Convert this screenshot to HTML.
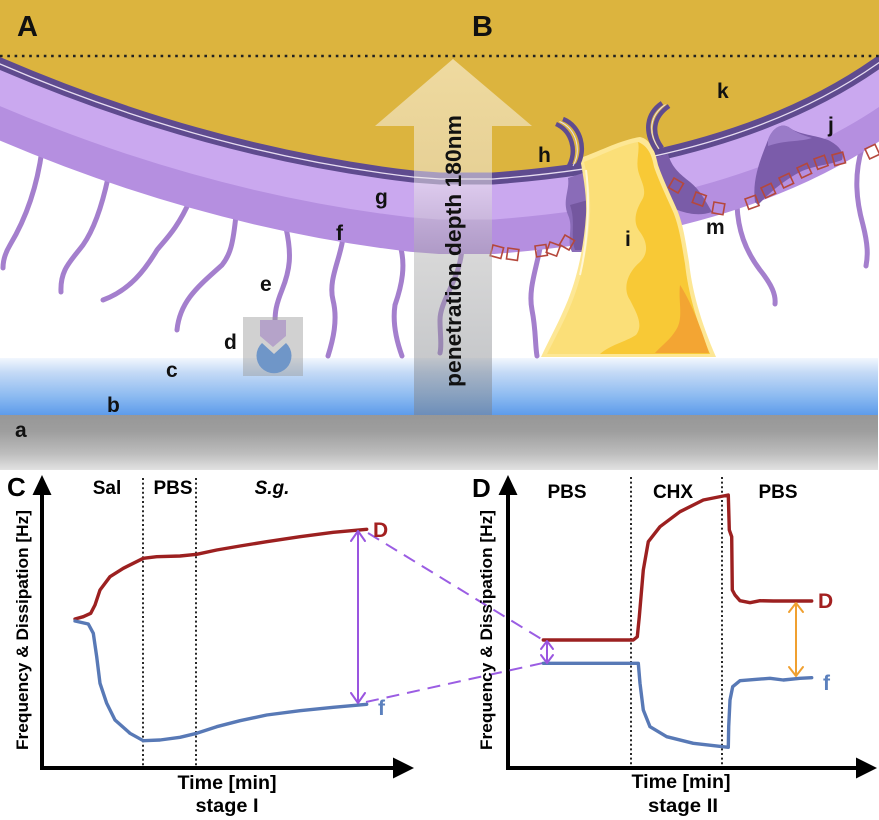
<!DOCTYPE html>
<html><head><meta charset="utf-8"><style>
html,body{margin:0;padding:0;background:#fff;}
svg{display:block;}
text{font-family:"Liberation Sans",Arial,sans-serif;font-weight:bold;}
</style></head><body>
<svg width="879" height="820" viewBox="0 0 879 820" xmlns="http://www.w3.org/2000/svg">
<defs>
<linearGradient id="blue" x1="0" y1="0" x2="0" y2="1">
 <stop offset="0" stop-color="#f2f7fe"/>
 <stop offset="0.25" stop-color="#c4daf6"/>
 <stop offset="0.65" stop-color="#8dbbf1"/>
 <stop offset="1" stop-color="#5b9aea"/>
</linearGradient>
<linearGradient id="grey" x1="0" y1="0" x2="0" y2="1">
 <stop offset="0" stop-color="#979797"/>
 <stop offset="0.3" stop-color="#9e9e9e"/>
 <stop offset="0.7" stop-color="#bdbdbd"/>
 <stop offset="1" stop-color="#e2e2e2"/>
</linearGradient>
<linearGradient id="arr" gradientUnits="userSpaceOnUse" x1="0" y1="58" x2="0" y2="415">
 <stop offset="0" stop-color="#fffaf0" stop-opacity="0.55"/>
 <stop offset="0.35" stop-color="#f0ecec" stop-opacity="0.5"/>
 <stop offset="0.55" stop-color="#a8a8a8" stop-opacity="0.45"/>
 <stop offset="1" stop-color="#7c8088" stop-opacity="0.5"/>
</linearGradient>
<clipPath id="cA"><rect x="-10" y="0" width="450" height="470"/></clipPath>
<clipPath id="cB"><rect x="440" y="0" width="144" height="470"/><rect x="652" y="0" width="240" height="470"/></clipPath>
<path id="mA" d="M-30,44.5 L0,57 Q207,146 413,170 L440,172 L460,173"/>
<path id="mB" d="M420,172 L493,172 C650,160 780,125 877,57 L900,41"/>
</defs>

<!-- ===== Top illustration ===== -->
<rect x="0" y="0" width="879" height="360" fill="#dcb43e"/>
<path d="M0,132 Q207,221 413,245 L440,247 V360 H0 Z" fill="#fff"/>
<path d="M440,247 L493,247 C650,235 780,200 877,132 L879,130 V360 H440 Z" fill="#fff"/>

<rect x="0" y="358" width="878" height="58" fill="url(#blue)"/>
<rect x="0" y="415" width="878" height="55" fill="url(#grey)"/>

<!-- hairs -->
<g fill="none" stroke="#a47fcd" stroke-width="5" stroke-linecap="round">
 <path d="M42,150 C36,195 22,225 10,245 C4,255 3,262 3,268"/>
 <path d="M108,178 C100,215 90,235 83,245 C70,262 60,270 61,292"/>
 <path d="M190,200 C178,228 165,240 157,250 C145,270 130,290 103,300"/>
 <path d="M236,215 C233,245 230,255 222,265 C200,285 180,300 177,330"/>
 <path d="M286,228 C292,255 290,270 282,290 C276,305 275,312 275,322"/>
 <path d="M343,238 C340,260 328,280 333,300 C338,320 333,340 328,356"/>
 <path d="M400,245 C406,265 402,285 395,305 C392,325 398,345 402,356"/>
 <path d="M462,248 C460,280 440,300 440,320 C440,335 442,345 440,353"/>
 <path d="M540,248 C536,270 528,290 532,310 C536,330 535,345 537,356"/>
 <path d="M737,205 C738,230 745,250 760,270 C772,285 776,295 775,304"/>
 <path d="M862,148 C854,175 856,200 863,225 C868,245 868,255 866,266"/>
</g>

<!-- membrane A -->
<g clip-path="url(#cA)">
 <use href="#mA" fill="none" stroke="#b58fe0" stroke-width="37" transform="translate(0,63.5)"/>
 <use href="#mA" fill="none" stroke="#caa8ef" stroke-width="36" transform="translate(0,29.5)"/>
 <use href="#mA" fill="none" stroke="#5f4b8f" stroke-width="12" transform="translate(0,6.5)"/>
 <use href="#mA" fill="none" stroke="#e6dcf0" stroke-width="1.3" transform="translate(0,7)"/>
</g>
<!-- membrane B -->
<g clip-path="url(#cB)">
 <use href="#mB" fill="none" stroke="#b58fe0" stroke-width="37" transform="translate(0,63.5)"/>
 <use href="#mB" fill="none" stroke="#caa8ef" stroke-width="36" transform="translate(0,29.5)"/>
 <use href="#mB" fill="none" stroke="#5f4b8f" stroke-width="12" transform="translate(0,6.5)"/>
 <use href="#mB" fill="none" stroke="#e6dcf0" stroke-width="1.3" transform="translate(0,7)"/>
</g>

<!-- dark patches in B -->
<path d="M568,178 L586,172 L588,252 L572,252 C566,240 574,228 568,215 C562,200 570,190 568,178 Z" fill="#8a6cb8"/>
<path d="M570,205 L588,200 L588,250 L575,250 C570,235 576,222 570,205 Z" fill="#74579f"/>
<path d="M652,158 L668,154 C672,168 680,174 690,182 C700,190 705,200 712,212 C700,216 690,214 680,211 C670,207 662,200 656,195 Z" fill="#7a5ca8"/>
<path d="M755,202 C752,180 760,160 768,140 C772,128 782,122 790,128 C800,135 815,135 828,140 C838,145 845,152 842,160 C830,165 815,165 800,172 C785,180 772,190 758,205 Z" fill="#7b5caa"/>
<path d="M768,140 C772,128 782,122 790,128 C798,134 806,136 812,138 C800,142 785,140 768,146 Z" fill="#9a7bc8"/>

<!-- red squares -->
<g fill="none" stroke="#b5483c" stroke-width="1.6">
 <rect x="0" y="0" width="11" height="11" transform="translate(493,245) rotate(15)"/>
 <rect x="0" y="0" width="11" height="11" transform="translate(508,248) rotate(8)"/>
 <rect x="0" y="0" width="11" height="11" transform="translate(535,246) rotate(-8)"/>
 <rect x="0" y="0" width="11" height="11" transform="translate(550,242) rotate(20)"/>
 <rect x="0" y="0" width="11" height="11" transform="translate(565,235) rotate(30)"/>
 <rect x="0" y="0" width="11" height="11" transform="translate(674,178) rotate(30)"/>
 <rect x="0" y="0" width="11" height="11" transform="translate(696,192) rotate(20)"/>
 <rect x="0" y="0" width="11" height="11" transform="translate(714,202) rotate(10)"/>
 <rect x="0" y="0" width="11" height="11" transform="translate(745,199) rotate(-20)"/>
 <rect x="0" y="0" width="11" height="11" transform="translate(761,188) rotate(-25)"/>
 <rect x="0" y="0" width="11" height="11" transform="translate(779,178) rotate(-25)"/>
 <rect x="0" y="0" width="11" height="11" transform="translate(797,168) rotate(-25)"/>
 <rect x="0" y="0" width="11" height="11" transform="translate(814,159) rotate(-20)"/>
 <rect x="0" y="0" width="11" height="11" transform="translate(832,155) rotate(-15)"/>
 <rect x="0" y="0" width="11" height="11" transform="translate(865,149) rotate(-25)"/>
</g>

<!-- gold blob i -->
<path d="M580,158 C598,152 620,140 640,137 C650,139 655,150 658,165 C664,182 672,198 678,212 C684,228 686,245 689,262 C692,290 700,320 716,357 L541,357 C550,338 560,320 568,300 C578,275 584,245 586,215 C587,195 583,175 580,158 Z" fill="#fde795"/>
<path d="M584,162 C600,156 620,145 638,142 C647,145 651,154 654,167 C660,184 668,200 674,214 C680,230 682,247 685,264 C688,292 696,320 710,354 L547,354 C556,336 565,320 572,302 C582,277 588,247 590,215 C591,196 588,178 584,162 Z" fill="#fbdf78"/>
<path d="M638,142 C648,146 652,155 654,167 C660,184 668,200 674,214 C680,230 682,247 685,264 C688,292 696,320 710,354 L600,354 C610,345 625,342 636,335 C644,325 636,312 630,300 C622,288 628,272 640,262 C650,252 646,240 640,232 C632,222 636,210 642,200 C648,190 640,180 638,170 C636,160 640,150 638,142 Z" fill="#f8c936"/>
<path d="M680,285 C690,300 700,325 709,353 L655,353 C662,345 670,340 676,330 C684,318 678,302 680,285 Z" fill="#f3a533"/>
<path d="M586,170 C590,200 588,240 580,275" fill="none" stroke="#fff6d8" stroke-width="2"/>

<!-- hooks -->
<g fill="none" stroke="#5f4b8f" stroke-width="4.5">
 <path d="M563,119 C581,126 587,150 577,166"/>
 <path d="M556,124 C572,131 577,151 569,166"/>
 <path d="M662,103 C646,114 644,132 656,150"/>
 <path d="M669,106 C653,117 651,133 662,148"/>
</g>
<g fill="none" stroke="#e6dcf0" stroke-width="1">
 <path d="M559.5,121.5 C576.5,128.5 582,150.5 573,166"/>
 <path d="M665.5,104.5 C649.5,115.5 647.5,132.5 659,149"/>
</g>

<!-- box d -->
<rect x="243" y="317" width="60" height="59" fill="#9a9a9a" fill-opacity="0.45"/>
<path d="M260,320 H286 V336 L273,347 L260,336 Z" fill="#b5a3c9"/>
<path d="M286,343 A17.5,17.5 0 1,1 262,343 L274,354 Z" fill="#6f96c8"/>

<!-- dotted line -->
<line x1="0" y1="56" x2="879" y2="56" stroke="#222" stroke-width="2.6" stroke-dasharray="2.6 4.7"/>

<!-- big arrow -->
<polygon points="414,415 414,126 375,126 453,59 532,126 492,126 492,415" fill="url(#arr)"/>
<text transform="translate(461,251) rotate(-90)" font-size="22" text-anchor="middle" textLength="272" lengthAdjust="spacingAndGlyphs" fill="#111">penetration depth 180nm</text>

<!-- labels -->
<g font-size="21" fill="#111">
 <text x="15" y="437">a</text>
 <text x="107" y="412">b</text>
 <text x="166" y="377">c</text>
 <text x="224" y="349">d</text>
 <text x="260" y="291">e</text>
 <text x="336" y="240">f</text>
 <text x="375" y="204">g</text>
 <text x="538" y="162">h</text>
 <text x="625" y="246">i</text>
 <text x="828" y="132">j</text>
 <text x="717" y="98">k</text>
 <text x="706" y="234">m</text>
</g>
<text x="17" y="36" font-size="29" fill="#111">A</text>
<text x="472" y="36" font-size="29" fill="#111">B</text>

<!-- ===== Charts ===== -->
<g stroke="#111" stroke-width="1.8" stroke-dasharray="2 2.6">
 <line x1="143" y1="478" x2="143" y2="766"/>
 <line x1="196" y1="478" x2="196" y2="766"/>
 <line x1="631" y1="477" x2="631" y2="766"/>
 <line x1="722" y1="477" x2="722" y2="766"/>
</g>
<g stroke="#000" stroke-width="4" fill="none">
 <line x1="42" y1="490" x2="42" y2="770"/>
 <line x1="40" y1="768" x2="396" y2="768"/>
 <line x1="508" y1="490" x2="508" y2="770"/>
 <line x1="506" y1="768" x2="859" y2="768"/>
</g>
<g fill="#000">
 <polygon points="42,475 32.5,495 51.5,495"/>
 <polygon points="414,768 393,757.5 393,778.5"/>
 <polygon points="508,475 498.5,495 517.5,495"/>
 <polygon points="877,768 856,757.5 856,778.5"/>
</g>

<g stroke="#9b5de3" stroke-width="2" stroke-dasharray="13 8" fill="none">
 <line x1="368" y1="533" x2="543" y2="640"/>
 <line x1="366" y1="702" x2="543" y2="663"/>
</g>

<g fill="none" stroke-width="3.4" stroke-linejoin="round" stroke-linecap="round">
 <path stroke="#9c2020" d="M75,619 L83.3,616.7 L90.7,613.3 L95,605 L100,590 L110,576.7 L123.3,568.3 L143.3,558.3 L156.7,556.7 L180,556 L196.7,554.3 L216.7,550 L240,546 L266.7,541.7 L300,536.7 L333.3,532.3 L366.7,529.3"/>
 <path stroke="#5879b6" d="M75,621 L88.3,624 L93.3,633.3 L96.7,656.7 L100,683.3 L106.7,703.3 L115,720 L130,733.3 L143.3,740.7 L160,740 L180,737.3 L196.7,733.3 L216.7,726.7 L240,720.7 L266.7,715 L300,710.7 L333.3,707.3 L366.7,704.3"/>
 <path stroke="#9c2020" d="M543.3,640 L633.3,640 L637.3,636.7 L639.3,616.7 L643.3,570 L648.3,541.7 L660,526.7 L680,511.7 L703.3,500 L728.3,495 L729.3,530 L731.7,536.7 L732.3,590 L735,595 L740,600.7 L750,602.7 L760,600.7 L773.3,601 L811.7,601"/>
 <path stroke="#5879b6" d="M543.3,663.3 L638.3,663.3 L640,683.3 L643.3,710 L650,726.7 L666.7,736.7 L693.3,743.3 L728.3,747.3 L728.7,726.7 L730,700 L732.7,686.7 L740,680.7 L756.7,679.3 L770,678.3 L783.3,680 L800,678.3 L811.7,677.7"/>
</g>

<g fill="none" stroke="#9a55e0" stroke-width="2" stroke-linecap="round" stroke-linejoin="round">
 <line x1="358" y1="532" x2="358" y2="702"/>
 <path d="M351,541 L358,531 L365,541"/>
 <path d="M351,693 L358,703 L365,693"/>
 <line x1="547" y1="642" x2="547" y2="662"/>
 <path d="M541,649 L547,641 L553,649"/>
 <path d="M541,655 L547,663 L553,655"/>
</g>
<g fill="none" stroke="#f0a030" stroke-width="2" stroke-linecap="round" stroke-linejoin="round">
 <line x1="796" y1="604" x2="796" y2="675"/>
 <path d="M789,612 L796,603 L803,612"/>
 <path d="M789,667 L796,676 L803,667"/>
</g>

<text x="7" y="496" font-size="26" fill="#000">C</text>
<text x="472" y="497" font-size="26" fill="#000">D</text>
<g font-size="19" fill="#000" text-anchor="middle">
 <text x="107" y="494">Sal</text>
 <text x="173" y="494">PBS</text>
 <text x="272" y="494" font-style="italic">S.g.</text>
 <text x="567" y="498">PBS</text>
 <text x="673" y="498">CHX</text>
 <text x="778" y="498">PBS</text>
 <text x="227" y="789" textLength="99" lengthAdjust="spacingAndGlyphs">Time [min]</text>
 <text x="227" y="812" textLength="63" lengthAdjust="spacingAndGlyphs">stage I</text>
 <text x="681" y="788" textLength="99" lengthAdjust="spacingAndGlyphs">Time [min]</text>
 <text x="683" y="812" textLength="70" lengthAdjust="spacingAndGlyphs">stage II</text>
</g>
<text transform="translate(28,630) rotate(-90)" font-size="17" text-anchor="middle" textLength="240" lengthAdjust="spacingAndGlyphs" fill="#000">Frequency &amp; Dissipation [Hz]</text>
<text transform="translate(492,630) rotate(-90)" font-size="17" text-anchor="middle" textLength="240" lengthAdjust="spacingAndGlyphs" fill="#000">Frequency &amp; Dissipation [Hz]</text>

<g font-size="21">
 <text x="373" y="537" fill="#a32020">D</text>
 <text x="378" y="715" fill="#5b80bd">f</text>
 <text x="818" y="608" fill="#a32020">D</text>
 <text x="823" y="690" fill="#5b80bd">f</text>
</g>
</svg>
</body></html>
